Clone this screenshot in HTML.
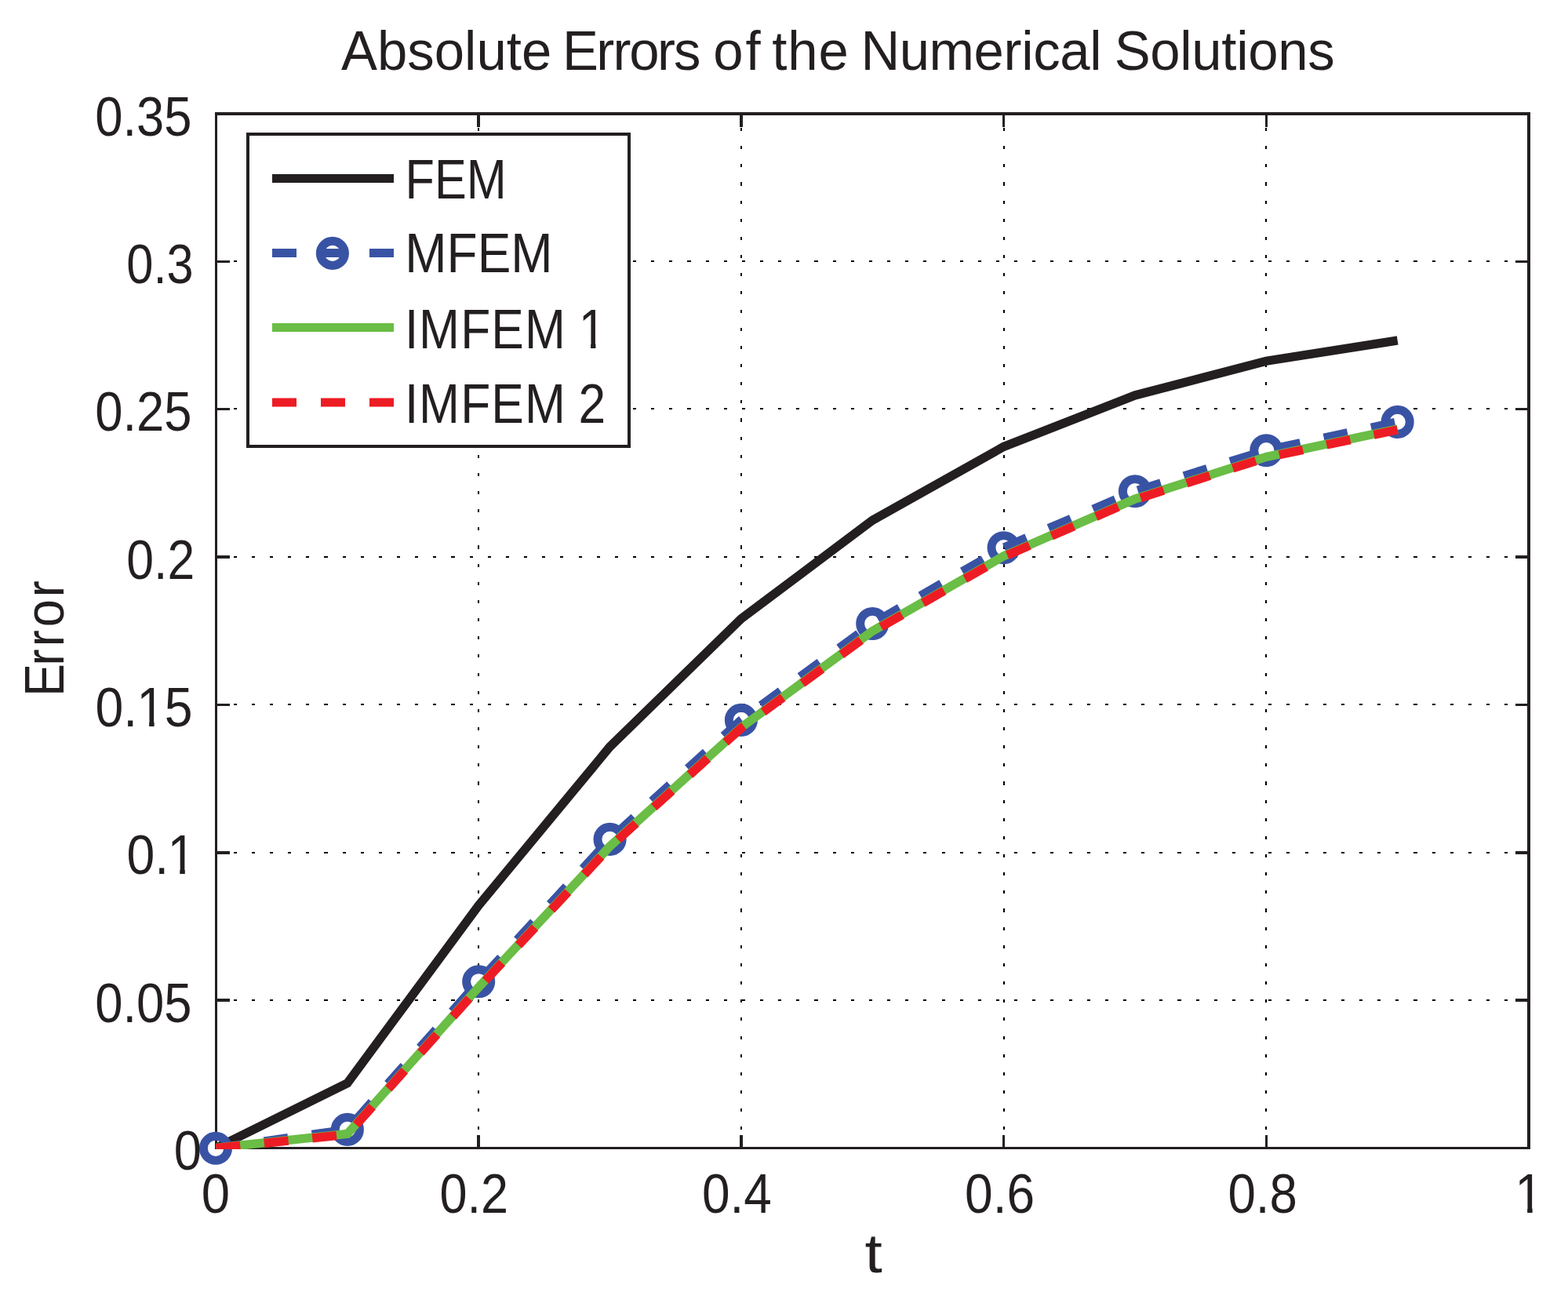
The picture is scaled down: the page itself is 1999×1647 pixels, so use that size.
<!DOCTYPE html>
<html lang="en">
<head>
<meta charset="utf-8">
<title>Absolute Errors of the Numerical Solutions</title>
<style>
html,body{margin:0;padding:0;background:#fff;}
body{width:1999px;height:1647px;overflow:hidden;}
svg{display:block;}
text{font-family:"Liberation Sans",sans-serif;fill:#231f20;white-space:pre;}
</style>
</head>
<body>
<svg width="1999" height="1647" viewBox="0 0 1999 1647">
<rect x="0" y="0" width="1999" height="1647" fill="#ffffff"/>
<g fill="none" stroke="#000000" stroke-width="2" stroke-dasharray="4.1 19.05" shape-rendering="crispEdges">
<line x1="610" y1="1463.5" x2="610" y2="145"/>
<line x1="945" y1="1463.5" x2="945" y2="145"/>
<line x1="1280" y1="1463.5" x2="1280" y2="145"/>
<line x1="1614" y1="1463.5" x2="1614" y2="145"/>
<line x1="274.5" y1="1275" x2="1949" y2="1275"/>
<line x1="274.5" y1="1087" x2="1949" y2="1087"/>
<line x1="274.5" y1="898" x2="1949" y2="898"/>
<line x1="274.5" y1="710" x2="1949" y2="710"/>
<line x1="274.5" y1="521" x2="1949" y2="521"/>
<line x1="274.5" y1="333" x2="1949" y2="333"/>
</g>
<g fill="none" stroke="#231f20" stroke-width="3.47" stroke-linecap="butt" shape-rendering="crispEdges">
<rect x="275.5" y="145" width="1673.5" height="1318.5"/>
<path d="M610.2 1463.5V1446.5M610.2 145V162M944.9 1463.5V1446.5M944.9 145V162M1279.6 1463.5V1446.5M1279.6 145V162M1614.3 1463.5V1446.5M1614.3 145V162M275.5 1275.14H292.5M1949 1275.14H1932M275.5 1086.79H292.5M1949 1086.79H1932M275.5 898.43H292.5M1949 898.43H1932M275.5 710.07H292.5M1949 710.07H1932M275.5 521.71H292.5M1949 521.71H1932M275.5 333.36H292.5M1949 333.36H1932"/>
</g>
<clipPath id="ax"><rect x="275" y="143" width="1676" height="1322"/></clipPath>
<g fill="none" stroke-linejoin="miter" stroke-miterlimit="10" stroke-linecap="butt">
<g clip-path="url(#ax)">
<polyline points="275.5,1463.5 442.85,1380.75 610.2,1154.2 777.55,951.9 944.9,788.75 1112.25,663.3 1279.6,569.4 1446.95,504 1614.3,460.25 1781.65,433.9" stroke="#231f20" stroke-width="11.3"/>
<polyline points="275.5,1463.8 442.85,1439.9 610.2,1251.3 777.55,1069.9 944.9,917.9 1112.25,795 1279.6,698.2 1446.95,626.2 1614.3,574.2 1781.65,537.9" stroke="#3953a4" stroke-width="11.3" stroke-dasharray="30.9 30.8"/>
</g>
<g stroke="#3953a4" stroke-width="10.9">
<circle cx="275" cy="1463.8" r="15.6"/>
<circle cx="442.85" cy="1439.9" r="15.6"/>
<circle cx="610.2" cy="1251.3" r="15.6"/>
<circle cx="777.55" cy="1069.9" r="15.6"/>
<circle cx="944.9" cy="917.9" r="15.6"/>
<circle cx="1112.25" cy="795" r="15.6"/>
<circle cx="1279.6" cy="698.2" r="15.6"/>
<circle cx="1446.95" cy="626.2" r="15.6"/>
<circle cx="1614.3" cy="574.2" r="15.6"/>
<circle cx="1781.65" cy="537.9" r="15.6"/>
</g>
<g clip-path="url(#ax)">
<polyline points="275.5,1463.4 442.85,1445.4 610.2,1258.4 777.55,1078.9 944.9,927.3 1112.25,804.5 1279.6,708.8 1446.95,636 1614.3,582.4 1781.65,547" stroke="#6abd45" stroke-width="11.3"/>
<polyline points="275.5,1463.6 442.85,1446.3 610.2,1259.3 777.55,1079.8 944.9,928.2 1112.25,805.4 1279.6,709.7 1446.95,636.9 1614.3,583.3 1781.65,547.9" stroke="#ed1c24" stroke-width="11.3" stroke-dasharray="30.9 30.8"/>
</g>
</g>
<rect x="316" y="171" width="486" height="397.8" fill="#ffffff" stroke="#231f20" stroke-width="3.47" shape-rendering="crispEdges"/>
<g fill="none" stroke-width="11">
<line x1="347" y1="227.4" x2="502" y2="227.4" stroke="#231f20"/>
<line x1="347" y1="322.4" x2="502" y2="322.4" stroke="#3953a4" stroke-dasharray="31 31"/>
<circle cx="423.9" cy="322.9" r="15.6" stroke="#3953a4" stroke-width="10.9"/>
<line x1="347" y1="417.5" x2="502" y2="417.5" stroke="#6abd45"/>
<line x1="347" y1="512.9" x2="502" y2="512.9" stroke="#ed1c24" stroke-dasharray="31 31"/>
</g>
<text transform="translate(0 88.8) scale(0.9842 1)" font-size="70" x="442.07 488.76 527.69 562.69 601.62 617.17 656.1 675.55 714.48 728.47 772.46 793.99 815.06 851.48 872.72 907.72 923.98 965.7 985.15 1000.14 1020.36 1060.32 1099.25 1115.02 1165.1 1203.53 1261.33 1299.92 1323.05 1338.33 1372.94 1411.6 1427.15 1443.44 1489.71 1528.36 1543.64 1582.28 1601.55 1616.83 1655.37 1693.94">Absolute Errors of the Numerical Solutions</text>
<g>
<text transform="translate(0 252.9) scale(0.8747 1)" font-size="70" x="590.57 633.33 680.02">FEM</text>
<text transform="translate(0 347.3) scale(0.9132 1)" font-size="70" x="565.42 623.73 666.49 713.18">MFEM</text>
<clipPath id="c1"><path clip-rule="evenodd" d="M0 0H1999V1647H0ZM741.59 436.57H753.11V445.8H741.59ZM759.41 436.57H770.45V445.8H759.41Z"/></clipPath><g clip-path="url(#c1)"><text transform="translate(0 443.8) scale(0.8900 1)" font-size="70" x="579.69 600.11 659.72 703.6 751.57 809.88 829.04">IMFEM 1</text></g>
<text transform="translate(0 539) scale(0.8900 1)" font-size="70" x="579.69 600.11 659.72 703.6 751.57 809.88 828.74">IMFEM 2</text>
</g>
<g>
<text transform="translate(256.7 1546) scale(0.9339 1)" font-size="70">0</text>
<text transform="translate(560.54 1546) scale(0.9006 1)" font-size="70">0.2</text>
<text transform="translate(895 1546) scale(0.9133 1)" font-size="70">0.4</text>
<text transform="translate(1230 1546) scale(0.9153 1)" font-size="70">0.6</text>
<text transform="translate(1565.41 1546) scale(0.9090 1)" font-size="70">0.8</text>
<clipPath id="c2"><path clip-rule="evenodd" d="M0 0H1999V1647H0ZM1935.27 1538.77H1947.15V1548H1935.27ZM1953.65 1538.77H1965.03V1548H1953.65Z"/></clipPath><g clip-path="url(#c2)"><text transform="translate(0 1546) scale(0.9200 1)" font-size="70" x="2099.3">1</text></g>
</g>
<g>
<text transform="translate(221.78 1491.1) scale(0.9040 1)" font-size="70">0</text>
<text transform="translate(121.22 1302.74) scale(0.9053 1)" font-size="70">0.05</text>
<clipPath id="c3"><path clip-rule="evenodd" d="M0 0H1999V1647H0ZM217.42 1107.16H229.3V1116.39H217.42ZM235.8 1107.16H247.18V1116.39H235.8Z"/></clipPath><g clip-path="url(#c3)"><text transform="translate(0 1114.39) scale(0.9200 1)" font-size="70" x="175.53 214.3 232.08">0.1</text></g>
<clipPath id="c4"><path clip-rule="evenodd" d="M0 0H1999V1647H0ZM178.24 918.8H190.13V928.03H178.24ZM196.62 918.8H208.01V928.03H196.62Z"/></clipPath><g clip-path="url(#c4)"><text transform="translate(0 926.03) scale(0.9200 1)" font-size="70" x="132.06 170.82 189.49 228.05">0.15</text></g>
<text transform="translate(161.26 737.67) scale(0.8929 1)" font-size="70">0.2</text>
<text transform="translate(121.22 549.31) scale(0.9053 1)" font-size="70">0.25</text>
<text transform="translate(161.3 360.96) scale(0.8776 1)" font-size="70">0.3</text>
<text transform="translate(121.22 172.6) scale(0.9053 1)" font-size="70">0.35</text>
</g>
<text transform="translate(1102.53 1622) scale(1.1468 1)" font-size="70">t</text>
<text transform="translate(81 0) rotate(-90) scale(0.9000 1)" font-size="70" x="-986.77 -942.73 -915.98 -888.08 -845.88">Error</text>
</svg>
</body>
</html>
